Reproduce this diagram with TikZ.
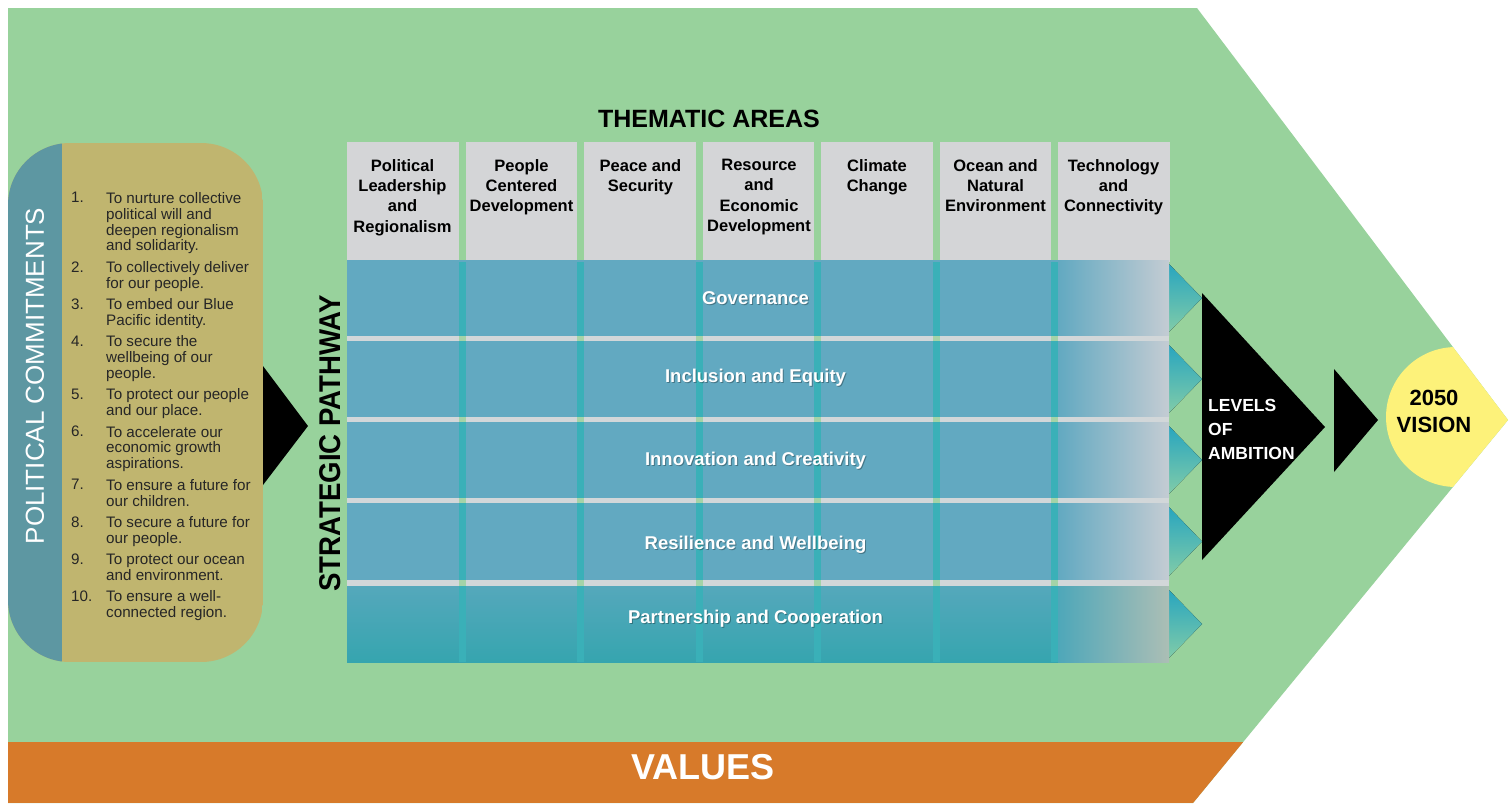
\documentclass[tikz,border=0pt]{standalone}
\usepackage{fontspec}
\setmainfont{Liberation Sans}
\definecolor{pgreen}{HTML}{98D29C}
\definecolor{porange}{HTML}{D77A2A}
\definecolor{khaki}{HTML}{C0B56F}
\definecolor{stripblue}{HTML}{5D97A2}
\definecolor{hdrgray}{HTML}{D4D5D7}
\definecolor{rowblue}{HTML}{62A9C1}
\definecolor{rowteal}{HTML}{36A5AF}
\definecolor{stripeteal}{HTML}{3AB0B8}
\definecolor{sepgray}{HTML}{D2D7D9}
\definecolor{fadegray}{HTML}{C4CCD3}
\definecolor{pyellow}{HTML}{FDF27A}
\definecolor{tritop}{HTML}{23A3C0}
\definecolor{tribot}{HTML}{86CEA7}
\definecolor{itemtext}{HTML}{262626}
\begin{document}
\begin{tikzpicture}[x=1pt,y=-1pt,
  hdr/.style={font=\bfseries\fontsize{16.5}{20.3}\selectfont, align=center, anchor=north, inner sep=0pt, text=black},
  rowlbl/.style={font=\bfseries\fontsize{18.5}{22}\selectfont, text=white, anchor=base, inner sep=0pt},
  rowshadow/.style={font=\bfseries\fontsize{18.5}{22}\selectfont, text=black, opacity=0.3, anchor=base, inner sep=0pt},
  item/.style={font=\fontsize{15.2}{15.9}\selectfont, align=left, anchor=north west, inner sep=0pt, text=itemtext},
  tri/.style={top color=tritop, bottom color=tribot},
  blk/.style={fill=black}]
\useasboundingbox (0,0) rectangle (1509,803);
\fill[white] (0,0) rectangle (1509,803);
% green chevron
\fill[pgreen] (8,8) -- (1197,8) -- (1508,420) -- (1193,803) -- (8,803) -- cycle;
\begin{scope}
  \clip (8,8) -- (1197,8) -- (1508,420) -- (1193,803) -- (8,803) -- cycle;
  \fill[porange] (8,742) rectangle (1509,803);
  \fill[pyellow] (1456,417) circle (70);
\end{scope}
\node[font=\bfseries\fontsize{36}{38}\selectfont, text=white, inner sep=0pt] (values) at (703,767) {VALUES};

% political commitments box
\begin{scope}
  \clip[rounded corners=62] (8,143) rectangle (263,662);
  \fill[khaki] (8,143) rectangle (263,662);
  \fill[stripblue] (8,143) rectangle (62,662);
\end{scope}
\node[rotate=90, font=\fontsize{26}{28}\selectfont, text=white, inner sep=0pt] (pc) at (35,376) {POLITICAL COMMITMENTS};
\foreach \n/\y/\t in {
  1/197.4/{To nurture collective\\political will and\\deepen regionalism\\and solidarity.},
  2/266.7/{To collectively deliver\\for our people.},
  3/303.9/{To embed our Blue\\Pacific identity.},
  4/341.0/{To secure the\\wellbeing of our\\people.},
  5/394.1/{To protect our people\\and our place.},
  6/431.2/{To accelerate our\\economic growth\\aspirations.},
  7/484.6/{To ensure a future for\\our children.},
  8/521.8/{To secure a future for\\our people.},
  9/558.9/{To protect our ocean\\and environment.},
  10/596.1/{To ensure a well-\\connected region.}} {
  \node[item] (num\n) at (71,{\y-5.4}) {\n.};
  \node[item] (com\n) at (106,{\y-5.4}) {\t};
}
\fill[blk] (263,366) -- (308,426) -- (263,485) -- cycle;

% strategic pathway label
\node[rotate=90, font=\bfseries\fontsize{30}{32}\selectfont, text=black, inner sep=0pt] (sp) at (330,443.5) {\scalebox{0.92}[1]{STRATEGIC PATHWAY}};

% thematic areas
\node[font=\bfseries\fontsize{25}{27}\selectfont, text=black, inner sep=0pt] (ta) at (709,119) {THEMATIC AREAS};

% teal triangles
\foreach \t/\b in {260/336,341/417,422/498,503/580,586/662} {
  \fill[tri] (1165,\t) -- (1202,{(\t+\b)/2}) -- (1165,\b) -- cycle;
}

% headers
\foreach \i in {0,...,6} {
  \fill[hdrgray] ({347+118.5*\i},142) rectangle ({458.5+118.5*\i},262);
}
% rows
\foreach \t/\b in {260/336,341/417,422/498,503/580} {
  \fill[rowblue] (347,\t) rectangle (1058,\b);
  \fill[left color=rowblue, right color=fadegray] (1058,\t) rectangle (1169,\b);
}
\fill[top color=rowblue!70!rowteal, bottom color=rowteal] (347,586) rectangle (1058,662);
\fill[left color=rowblue!55!rowteal, right color=fadegray!70!pgreen!80!gray] (1058,586) rectangle (1169,662);
% separators
\foreach \a/\b in {336/341,417/422,498/503,580/586} {
  \fill[sepgray] (347,\a) rectangle (1169,\b);
}
% vertical stripes
\foreach \i in {0,...,5} {
  \fill[stripeteal] ({458.5+118.5*\i},262) rectangle ({465.5+118.5*\i},662);
  \foreach \a/\b in {336/341,417/422,498/503,580/586} {
    \fill[pgreen!80!sepgray] ({458.5+118.5*\i},\a) rectangle ({465.5+118.5*\i},\b);
  }
}
% header texts
\node[hdr] (h1) at (402.5,159) {Political\\Leadership\\and\\Regionalism};
\node[hdr] (h2) at (521.5,159) {People\\Centered\\Development};
\node[hdr] (h3) at (640.5,159) {Peace and\\Security};
\node[hdr] (h4) at (759,159) {Resource\\and\\Economic\\Development};
\node[hdr] (h5) at (877,159) {Climate\\Change};
\node[hdr] (h6) at (995.5,159) {Ocean and\\Natural\\Environment};
\node[hdr] (h7) at (1113.5,159) {Technology\\and\\Connectivity};

% row labels
\foreach \y/\t/\nm in {304.6/Governance/r1, 382.6/Inclusion and Equity/r2, 465.6/Innovation and Creativity/r3, 549.6/Resilience and Wellbeing/r4, 623.6/Partnership and Cooperation/r5} {
  \node[rowshadow] (\nm s) at (756.5,{\y+1.2}) {\t};
  \node[rowlbl] (\nm) at (755.5,\y) {\t};
}

% levels of ambition
\fill[blk] (1202,293) -- (1325,427) -- (1202,560) -- cycle;
\node[font=\bfseries\fontsize{17.5}{24}\selectfont, text=white, align=left, anchor=west, inner sep=0pt] (loa) at (1208,429) {LEVELS\\OF\\AMBITION};
\fill[blk] (1334,369) -- (1378,420) -- (1334,472) -- cycle;
\node[font=\bfseries\fontsize{22}{27}\selectfont, text=black, align=center, inner sep=0pt] (vision) at (1434,411.5) {2050\\VISION};
\end{tikzpicture}
\end{document}
